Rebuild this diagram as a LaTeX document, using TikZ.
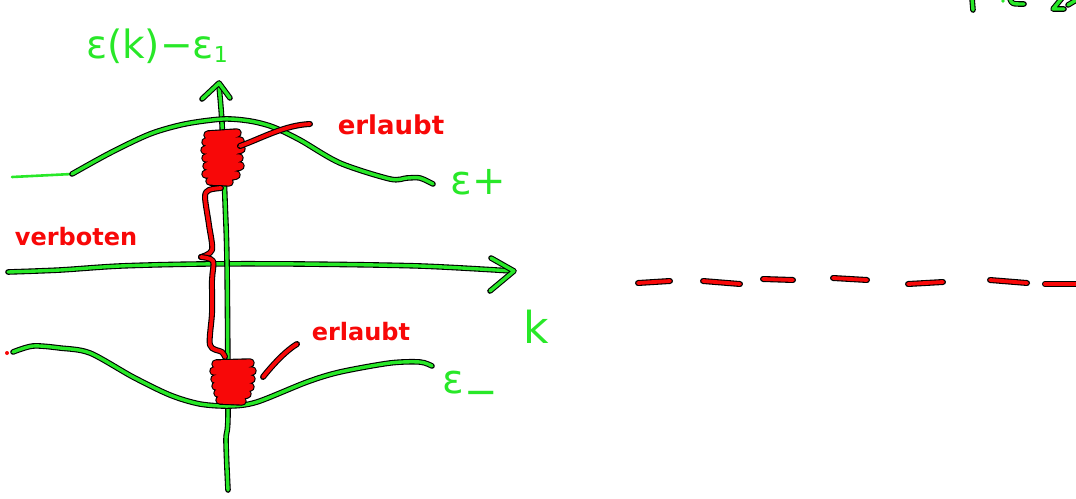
\documentclass[tikz,border=0pt]{standalone}
\usepackage{fontspec}
\newfontfamily\hand{DejaVu Sans}
\definecolor{pgreen}{RGB}{40,232,40}
\definecolor{pred}{RGB}{248,8,8}
\tikzset{
  gpen/.style={preaction={draw=black,line width=5.6pt,line cap=round,line join=round},
               draw=pgreen,line width=3.4pt,line cap=round,line join=round},
  rpen/.style={preaction={draw=black,line width=6pt,line cap=round,line join=round},
               draw=pred,line width=3.8pt,line cap=round,line join=round},
  coilpen/.style={preaction={draw=black,line width=9.5pt,line cap=round,line join=round},
               draw=pred,line width=7.2pt,line cap=round,line join=round},
  glabel/.style={text=pgreen,inner sep=0pt},
  rlabel/.style={text=pred,inner sep=0pt}
}
\begin{document}
\begin{tikzpicture}[x=1pt,y=-1pt]
\useasboundingbox[fill=white] (0,0) rectangle (1076,498);

% horizontal axis k
\draw[gpen] plot[smooth] coordinates {(8,272) (60,270) (120,266) (200,264) (300,264) (420,266) (512,271)};
\draw[gpen] (491,258) -- (514,271) -- (490,291);
% vertical axis
\draw[gpen] plot[smooth] coordinates {(219,86) (222,123) (225,200) (227,263) (228,413) (226,440) (228,490)};
\draw[gpen] (202,99) -- (219,83) -- (230,98);

% upper band epsilon+
\draw[pgreen,line width=2.6pt,line cap=round] (12,177) -- (72,174);
\draw[gpen] plot[smooth] coordinates {(72,174) (110,153) (150,134) (185,124) (223,119) (250,121) (273,127) (300,140) (340,163) (390,179) (407,178) (420,178) (433,184)};

% lower band epsilon-
\fill[pred] (7,353) circle (2);
\draw[gpen] plot[smooth] coordinates {(13,352) (33,346) (60,348) (90,353) (133,377) (170,395) (200,404) (230,406) (257,402) (307,382) (340,372) (390,363) (420,362) (432,366)};

% upper coil
\coordinate (ucoil) at (240,146);
\draw[coilpen] (208,135) -- (237,133) -- (206,142) -- (240,141) -- (205,150) -- (241,149)
   -- (206,158) -- (239,158) -- (207,166) -- (240,166) -- (206,174) -- (236,175) -- (210,181) -- (229,182);
% lower coil
\coordinate (lcoil) at (252,372);
\draw[coilpen] (216,364) -- (250,363) -- (214,371) -- (252,371) -- (215,379) -- (251,379)
   -- (216,386) -- (250,387) -- (218,393) -- (247,394) -- (220,400) -- (242,401);

% verboten brace
\draw[rpen] plot[smooth] coordinates {(221,188) (209,190) (205,197) (209,225) (212,250) (201,257)};
\draw[rpen] plot[smooth] coordinates {(201,257) (213,261) (212,280) (212,313) (210,345) (222,352) (225,357)};

% labels
\node[glabel,font=\hand\fontsize{39}{44}\selectfont] (ylab) at (157,46) {ε(k)−ε\raisebox{-0.1em}{\fontsize{22}{24}\selectfont 1}};
\node[rlabel,font=\hand\bfseries\fontsize{26}{30}\selectfont] (erl1) at (391,125) {erlaubt};
\node[rlabel,font=\hand\bfseries\fontsize{24}{28}\selectfont] (verb) at (76,237) {verboten};
\node[rlabel,font=\hand\bfseries\fontsize{24}{28}\selectfont] (erl2) at (361,332) {erlaubt};
\node[glabel,font=\hand\fontsize{40}{44}\selectfont] (eplus) at (478,182) {ε+};
\node[glabel,font=\hand\fontsize{40}{44}\selectfont] (eminus) at (470,388) {ε\raisebox{-0.3em}{−}};
\node[glabel,font=\hand\fontsize{44}{48}\selectfont] (klab) at (536,327) {k};

% leaders
\draw[rpen] (ucoil) .. controls (262,138) and (285,125) .. (310,124);
\draw[rpen] (263,377) .. controls (275,362) and (287,350) .. (297,344);

% dashed line
\foreach \a/\b in {{(638,283)/(670,281)},{(703,281)/(740,284)},{(763,279)/(793,280)},{(833,278)/(867,280)},{(908,284)/(943,282)},{(990,280)/(1027,283)},{(1045,284)/(1076,284)}}
  \draw[rpen] \a -- \b;

% fragments at top edge
\draw[gpen] (972,-2) -- (973,10);
\fill[pgreen] (1003,1) circle (1.8);
\draw[gpen] (1010,-1) .. controls (1012,4) .. (1024,4);
\draw[gpen] (1062,-2) -- (1053,9) -- (1064,9);
\draw[gpen] (1068,5) -- (1078,-1);
\end{tikzpicture}
\end{document}
